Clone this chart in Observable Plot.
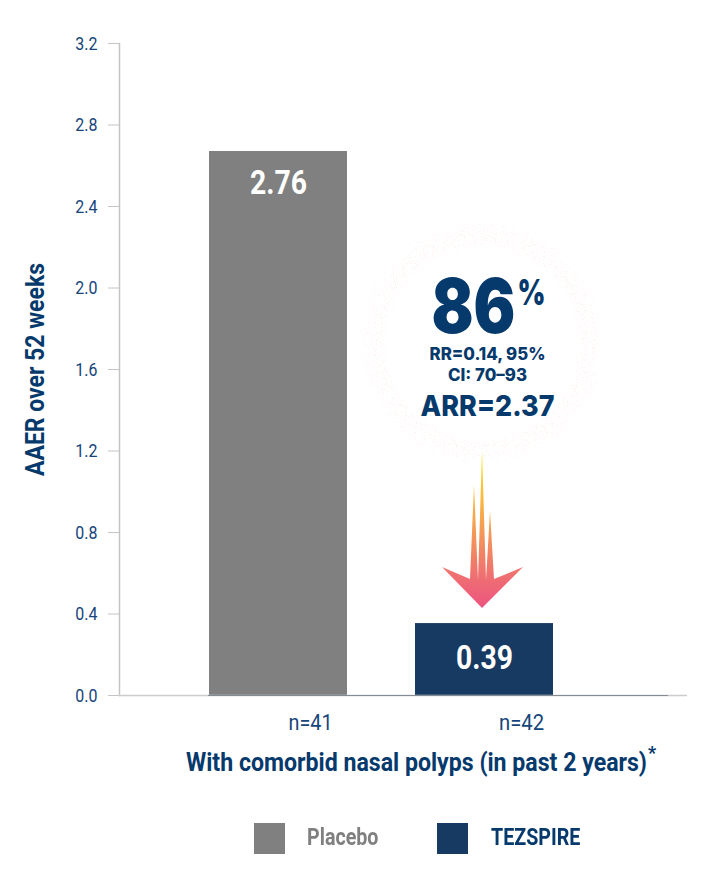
<!DOCTYPE html>
<html>
<head>
<meta charset="utf-8">
<script src="https://cdn.jsdelivr.net/npm/d3@7"></script>
<script src="https://cdn.jsdelivr.net/npm/@observablehq/plot@0.6"></script>
<style>
  html, body { margin: 0; padding: 0; background: #fff; }
  #chart svg { display: block; overflow: visible; }
  #legend { position: relative; height: 98px; font-family: Roboto, sans-serif; font-weight: 700; font-size: 23px; }
  #legend i { position: absolute; top: 33px; width: 31px; height: 31px; }
  #legend span { position: absolute; top: 35px; line-height: 26px; transform-origin: left center; transform: scaleX(.855); white-space: nowrap; }
</style>
</head>
<body>
<div id="chart"></div>
<div id="legend"></div>
<script>
const groups = ["Placebo", "TEZSPIRE"];
const barHeights = [2.67, 0.353];
const valueLabels = ["2.76", "0.39"];
const sampleLabels = ["n=41", "n=42"];
const yTicks = [0, 0.4, 0.8, 1.2, 1.6, 2.0, 2.4, 2.8, 3.2];
const colors = ["#808080", "#173a63"];
const yTitle = "AAER over 52 weeks";
const xTitle = "With comorbid nasal polyps (in past 2 years)";
const footMark = "*";
const headline = "86";
const headlineUnit = "%";
const statLines = ["RR=0.14, 95%", "CI: 70\u201393"];
const arrLine = "ARR=2.37";

const navy = "#06396c";
const tickBlue = "#16457a";
const rows = groups.map((g, i) => ({group: g, value: barHeights[i], label: valueLabels[i], n: sampleLabels[i]}));

// target rendered widths, to stand in for the condensed and geometric faces of the original
const fit = new Map([
  [valueLabels[0], 57], [valueLabels[1], 57],
  [sampleLabels[0], 44], [sampleLabels[1], 45],
  [yTitle, 213], [xTitle, 461],
  [headline, 84], [headlineUnit, 28], [statLines[0], 116], [statLines[1], 79], [arrLine, 134]
]);

// halo and arrow drawn from the TEZSPIRE bar's own scale position
function callout(index, scales) {
  const cx = scales.x("TEZSPIRE") + scales.x.bandwidth() / 2 - 2;
  const y0 = scales.y(0);
  const g = d3.create("svg:g");
  const defs = g.append("defs");
  const halo = defs.append("radialGradient").attr("id", "halo");
  [[0, 0], [.74, 0], [.82, .16], [.92, .11], [1, 0]].forEach(([o, a]) =>
    halo.append("stop").attr("offset", o).attr("stop-color", "#f3a898").attr("stop-opacity", a));
  const speckle = defs.append("filter").attr("id", "speckle")
    .attr("x", 0).attr("y", 0).attr("width", 1).attr("height", 1);
  speckle.append("feTurbulence").attr("type", "fractalNoise").attr("baseFrequency", 0.9).attr("numOctaves", 2).attr("seed", 4).attr("result", "n");
  speckle.append("feColorMatrix").attr("in", "n").attr("type", "matrix")
    .attr("values", "0 0 0 0 0  0 0 0 0 0  0 0 0 0 0  0 0 0 9 -5.2").attr("result", "dots");
  speckle.append("feComposite").attr("in", "SourceGraphic").attr("in2", "dots").attr("operator", "in");
  const grad = defs.append("linearGradient").attr("id", "arrowFill").attr("x1", 0).attr("x2", 0).attr("y1", 0).attr("y2", 1);
  [[0, "#ffe600"], [.18, "#fdc92f"], [.5, "#f59a55"], [.8, "#ef6f72"], [1, "#ec5480"]].forEach(([o, c]) =>
    grad.append("stop").attr("offset", o).attr("stop-color", c));
  g.append("circle").attr("cx", cx).attr("cy", y0 - 352).attr("r", 125).attr("fill", "url(#halo)").attr("filter", "url(#speckle)");
  const pts = [[0, -87], [41, -128], [12, -116], [8, -184], [4, -115], [0, -244], [-4, -115], [-8, -210], [-12, -116], [-40, -128]];
  g.append("path")
    .attr("d", "M" + pts.map(([dx, dy]) => `${cx + dx},${y0 + dy}`).join("L") + "Z")
    .attr("fill", "url(#arrowFill)");
  return g.node();
}

const anchor = {x: () => "TEZSPIRE", y: () => 1.6, fontFamily: "Inter, sans-serif", fill: navy, fontWeight: 800};

const plot = Plot.plot({
  width: 720, height: 790,
  marginLeft: 119, marginRight: 33, marginTop: 43, marginBottom: 95,
  style: {fontFamily: "Roboto, sans-serif", background: "#fff", overflow: "visible"},
  x: {type: "band", domain: groups, range: [175, 587], paddingInner: 0.33, paddingOuter: 0.165, round: false, axis: null},
  y: {domain: [0, 3.2], axis: null},
  marks: [
    Plot.barY(rows, {x: "group", y: "value", fill: (d, i) => colors[i]}),
    callout,
    Plot.frame({anchor: "left", stroke: "#c4c4c4", strokeWidth: 1.5}),
    Plot.ruleY([0], {stroke: "#cccccc", strokeWidth: 1.5}),
    Plot.ruleY([0], {stroke: "#858b94", strokeWidth: 1.2, insetLeft: 89, insetRight: 19}),
    Plot.axisY({
      ticks: yTicks, tickFormat: d3.format(".1f"), tickSize: 11, tickPadding: 11,
      stroke: "#c4c4c4", color: tickBlue, fontSize: 19, label: null, marginLeft: 119
    }),
    Plot.text(rows.slice(0, 1), {x: "group", y: "value", text: "label", fill: "#fff", fontSize: 34, fontWeight: 700, dy: 32}),
    Plot.text(rows.slice(1), {x: "group", y: "value", text: "label", fill: "#fff", fontSize: 34, fontWeight: 700, dy: 35}),
    Plot.text(rows, {x: "group", y: () => 0, text: "n", fill: tickBlue, fontSize: 22, dy: 27}),
    Plot.text([yTitle], {frameAnchor: "left", y: () => 1.6, dx: -84, rotate: -90, textAnchor: "middle", fill: navy, fontSize: 25, fontWeight: 700}),
    Plot.text([xTitle], {x: () => "TEZSPIRE", y: () => 0, dx: -68, dy: 67, fill: navy, fontSize: 26, fontWeight: 700}),
    Plot.text([footMark], {x: () => "TEZSPIRE", y: () => 0, dx: 167.5, dy: 58, fill: navy, fontSize: 18, fontWeight: 700}),
    Plot.text([headline], {...anchor, text: d => d, dy: -61, fontSize: 76, dx: -11, fontWeight: 900}),
    Plot.text([headlineUnit], {...anchor, text: d => d, dy: -76, dx: 47, fontSize: 35, fontWeight: 900}),
    Plot.text([statLines[0]], {...anchor, text: d => d, dy: -15, fontSize: 17, dx: 3}),
    Plot.text([statLines[1]], {...anchor, text: d => d, dy: 6, fontSize: 17, dx: 3}),
    Plot.text([arrLine], {...anchor, text: d => d, dy: 37, fontSize: 29, dx: 3})
  ]
});

document.getElementById("chart").appendChild(plot);

// n labels sit to the right of their bars in the original
const nOffset = {[sampleLabels[0]]: 32, [sampleLabels[1]]: 37};
d3.select(plot).selectAll("text").each(function () {
  const s = this.textContent;
  if (nOffset[s] !== undefined) {
    const t = this.getAttribute("transform") || "";
    this.setAttribute("transform", `translate(${nOffset[s]},0) ${t}`);
  }
  const w = fit.get(s) ?? (/^\d\.\d$/.test(s) ? this.getComputedTextLength() * 0.84 : null);
  if (w) {
    this.setAttribute("textLength", w);
    this.setAttribute("lengthAdjust", "spacingAndGlyphs");
  }
});

// legend
const legend = d3.select("#legend");
const swatchX = [254, 437], labelX = [307, 491];
groups.forEach((g, i) => {
  legend.append("i").style("left", swatchX[i] + "px").style("background", colors[i]);
  legend.append("span").style("left", labelX[i] + "px").style("color", i ? navy : "#808080").text(g);
});
</script>
</body>
</html>
